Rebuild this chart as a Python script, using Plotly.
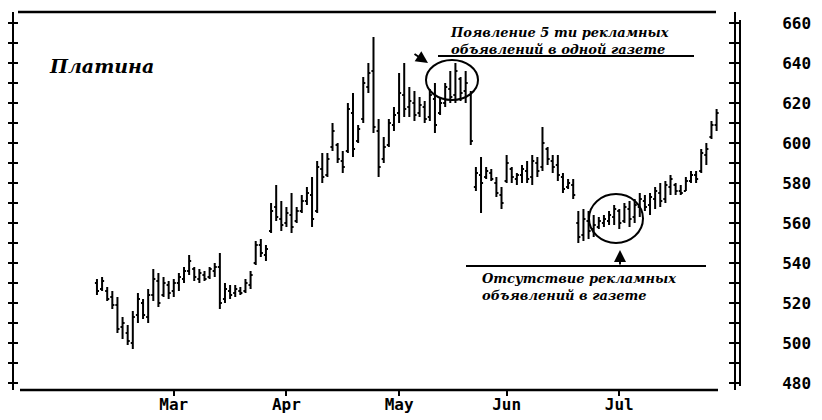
import pandas as pd
import plotly.graph_objects as go

# ---- data ----
dates = pd.bdate_range("1987-02-09", "1987-07-28")

high = [532, 533, 528, 526, 523, 513, 509, 516, 525, 522, 527, 537, 535, 533, 531, 532,
        535, 538, 544, 538, 537, 536, 538, 540, 545, 530, 529, 529, 528, 532, 536, 551,
        552, 549, 570, 579, 571, 568, 575, 568, 574, 578, 583, 591, 595, 595, 610, 600,
        596, 620, 625, 609, 633, 640, 653, 612, 603, 612, 618, 635, 640, 628, 626, 623,
        621, 627, 630, 623, 630, 636, 640, 633, 636, 626, 588, 593, 588, 587, 583, 578,
        594, 588, 585, 589, 591, 594, 593, 608, 598, 594, 594, 585, 582, 582, 566, 567,
        566, 564, 563, 564, 566, 569, 567, 570, 571, 572, 575, 574, 575, 578, 580, 581,
        584, 580, 579, 583, 586, 586, 597, 600, 611, 617]
low = [524, 526, 521, 517, 505, 502, 499, 497, 510, 512, 510, 521, 518, 523, 522, 523,
       526, 530, 534, 531, 530, 531, 532, 533, 517, 520, 522, 523, 524, 525, 527, 539,
       543, 541, 555, 561, 556, 558, 555, 560, 565, 569, 558, 565, 580, 583, 596, 590,
       585, 595, 593, 600, 610, 625, 605, 583, 590, 598, 606, 610, 613, 613, 611, 613,
       610, 611, 605, 614, 618, 620, 620, 621, 620, 599, 576, 565, 582, 581, 573, 567,
       580, 580, 579, 580, 580, 579, 583, 586, 589, 585, 581, 575, 577, 572, 550, 551,
       552, 553, 557, 558, 559, 559, 557, 560, 558, 560, 563, 566, 564, 567, 568, 570,
       574, 574, 574, 576, 580, 580, 585, 589, 602, 606]
open_ = [530, 527, 526, 523, 519, 508, 505, 500, 514, 520, 513, 524, 531, 524, 529, 526,
         530, 532, 536, 537, 532, 534, 533, 536, 538, 522, 526, 525, 526, 526, 529, 540,
         549, 544, 556, 568, 562, 560, 564, 561, 566, 571, 574, 566, 587, 584, 598, 599,
         591, 596, 615, 601, 612, 628, 636, 606, 592, 599, 609, 615, 624, 618, 620, 615,
         618, 613, 622, 615, 620, 627, 624, 632, 626, 624, 578, 584, 583, 585, 580, 574,
         581, 587, 582, 584, 586, 583, 590, 588, 597, 591, 589, 583, 578, 579, 560, 554,
         561, 557, 558, 560, 561, 563, 566, 561, 567, 563, 568, 571, 569, 572, 575, 572,
         578, 579, 576, 576, 581, 584, 586, 594, 603, 609]
close = [526, 531, 522, 519, 507, 510, 501, 513, 522, 514, 524, 532, 520, 530, 525, 530,
         533, 536, 541, 533, 535, 532, 537, 538, 520, 527, 524, 527, 525, 530, 534, 549,
         545, 547, 566, 563, 559, 565, 558, 566, 571, 575, 562, 588, 583, 592, 606, 592,
         588, 617, 597, 607, 630, 635, 608, 588, 598, 610, 614, 625, 617, 621, 614, 619,
         612, 624, 609, 620, 628, 623, 636, 625, 630, 601, 585, 580, 586, 582, 575, 570,
         590, 583, 584, 587, 582, 591, 586, 600, 592, 588, 584, 577, 580, 574, 553, 562,
         556, 559, 561, 562, 564, 567, 560, 568, 562, 569, 572, 568, 573, 576, 571, 579,
         582, 576, 575, 581, 584, 582, 595, 597, 609, 615]

month_ticks = ["1987-03-02", "1987-04-01", "1987-05-01", "1987-06-01", "1987-07-01"]
month_labels = ["Mar", "Apr", "May", "Jun", "Jul"]
price_ticks = [480, 500, 520, 540, 560, 580, 600, 620, 640, 660]
price_labels = [str(v) for v in price_ticks]

title_text = "Платина"
note_top = "Появление 5 ти рекламных<br>объявлений в одной газете"
note_bottom = "Отсутствие рекламных<br>объявлений в газете"

# ---- layout helpers (pixel -> paper) ----
L, R, T, B = 14, 734, 12, 390
W, H = R - L, B - T


def px(x):
    return (x - L) / W


def py(y):
    return (B - y) / H


YR = [476.5, 665.5]
XR = ["1987-01-15 19:12", "1987-07-31 09:36"]

fig = go.Figure()
fig.add_trace(go.Ohlc(
    x=dates, open=open_, high=high, low=low, close=close,
    increasing=dict(line=dict(color="black", width=2)),
    decreasing=dict(line=dict(color="black", width=2)),
    tickwidth=0.4, showlegend=False, hoverinfo="skip",
    yaxis="y",
))
for ax in ["y2", "y3", "y4"]:
    fig.add_trace(go.Scatter(x=[dates[0]], y=[None], yaxis=ax, showlegend=False,
                             hoverinfo="skip", mode="markers"))

tickfont = dict(family="DejaVu Sans Mono", size=16, color="black", weight="bold")

fig.update_layout(
    width=822, height=420,
    margin=dict(l=L, r=822 - R, t=T, b=420 - B, autoexpand=False),
    paper_bgcolor="white", plot_bgcolor="white",
    xaxis=dict(
        type="date", range=XR, rangebreaks=[dict(bounds=["sat", "mon"])],
        rangeslider=dict(visible=False), automargin=False,
        tickvals=month_ticks, ticktext=month_labels,
        ticks="outside", ticklen=5, tickwidth=2, tickcolor="black",
        showgrid=False, zeroline=False, showline=False,
        tickfont=tickfont, ticklabelstandoff=-5,
    ),
    yaxis=dict(
        side="right", range=YR, tickvals=price_ticks, ticktext=price_labels,
        ticks="outside", ticklen=5, tickwidth=2, tickcolor="black", automargin=False,
        minor=dict(dtick=10, tick0=480, ticks="outside", ticklen=5, tickwidth=2, tickcolor="black"),
        showline=True, linewidth=2, linecolor="black",
        showgrid=False, zeroline=False, tickfont=tickfont, ticklabelstandoff=38,
    ),
    yaxis2=dict(
        overlaying="y", side="right", range=YR, dtick=10, tick0=480, automargin=False,
        ticks="inside", ticklen=5, tickwidth=2, tickcolor="black",
        showticklabels=False, showgrid=False, zeroline=False, showline=False,
    ),
    yaxis3=dict(
        overlaying="y", side="left", range=YR, dtick=10, tick0=480, automargin=False,
        ticks="outside", ticklen=4, tickwidth=2, tickcolor="black",
        showticklabels=False, showgrid=False, zeroline=False,
        showline=True, linewidth=2, linecolor="black",
    ),
    yaxis4=dict(
        overlaying="y", side="left", range=YR, dtick=10, tick0=480, automargin=False,
        ticks="inside", ticklen=4, tickwidth=2, tickcolor="black",
        showticklabels=False, showgrid=False, zeroline=False, showline=False,
    ),
)

line = dict(color="black", width=2.5)
fig.add_shape(type="line", xref="paper", yref="paper", x0=px(18), x1=px(716), y0=py(12), y1=py(12), line=line)
fig.add_shape(type="line", xref="paper", yref="paper", x0=px(20), x1=px(718), y0=py(390), y1=py(390), line=line)
fig.add_shape(type="line", xref="paper", yref="paper", x0=px(740), x1=px(740), y0=py(20), y1=py(386),
              line=dict(color="black", width=2))
# annotation lines
fig.add_shape(type="line", xref="paper", yref="paper", x0=px(438), x1=px(694), y0=py(56), y1=py(56),
              line=dict(color="black", width=2))
fig.add_shape(type="line", xref="paper", yref="paper", x0=px(466), x1=px(706), y0=py(266), y1=py(266),
              line=dict(color="black", width=2))
# circles
fig.add_shape(type="circle", xref="paper", yref="paper", x0=px(426), x1=px(478), y0=py(100), y1=py(60),
              line=dict(color="black", width=2))
fig.add_shape(type="circle", xref="paper", yref="paper", x0=px(589), x1=px(643), y0=py(243), y1=py(194),
              line=dict(color="black", width=2))

serif = dict(family="DejaVu Serif", color="black")
fig.add_annotation(xref="paper", yref="paper", x=px(47), y=py(66), xanchor="left", yanchor="middle",
                   text="<b><i>" + title_text + "</i></b>", showarrow=False, font=dict(serif, size=19))
fig.add_annotation(xref="paper", yref="paper", x=px(448), y=py(23), xanchor="left", yanchor="top",
                   align="left", text="<b><i>" + note_top + "</i></b>", showarrow=False,
                   font=dict(serif, size=13))
fig.add_annotation(xref="paper", yref="paper", x=px(480), y=py(269), xanchor="left", yanchor="top",
                   align="left", text="<b><i>" + note_bottom + "</i></b>", showarrow=False,
                   font=dict(serif, size=13))
# arrows
fig.add_annotation(xref="paper", yref="paper", x=px(428), y=py(63), ax=-15, ay=-10, text="",
                   showarrow=True, arrowhead=2, arrowsize=1.2, arrowwidth=2, arrowcolor="black")
fig.add_annotation(xref="paper", yref="paper", x=px(620), y=py(250), ax=0, ay=16, text="",
                   showarrow=True, arrowhead=2, arrowsize=1.2, arrowwidth=2, arrowcolor="black")

fig.write_html("out.html", config={"displayModeBar": False},
               post_script="document.body.style.margin='0';")
